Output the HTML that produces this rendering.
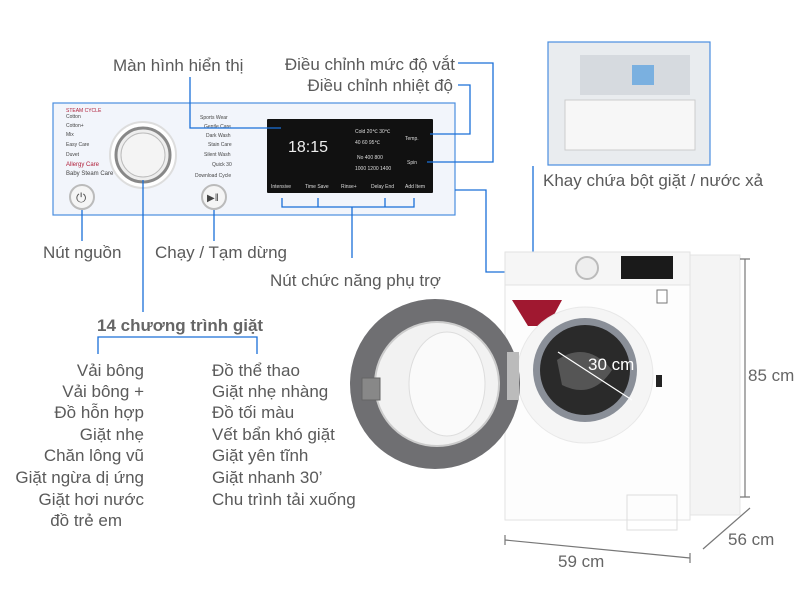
<!DOCTYPE html>
<html><head><meta charset="utf-8"><style>
body{margin:0;background:#fff;}
svg{display:block;font-family:"Liberation Sans",sans-serif;}
.t{fill:#5a5a5a;font-size:17px;}
.b{stroke:#1a6fd8;stroke-width:1.3;fill:none;}
.s{font-size:5px;fill:#444;}
.w{font-size:5px;fill:#ddd;}
</style></head><body>
<svg width="800" height="600" viewBox="0 0 800 600">
<!-- control panel -->
<rect x="53" y="103" width="402" height="112" fill="#f2f5fb" stroke="#4a8ee0" stroke-width="1.2"/>
<text x="66" y="112" font-size="5" fill="#b0203a">STEAM CYCLE</text>
<g class="s">
<text x="66" y="118">Cotton</text><text x="66" y="127">Cotton+</text><text x="66" y="136">Mix</text>
<text x="66" y="146">Easy Care</text><text x="66" y="156">Duvet</text>
<text x="66" y="175" font-size="6">Baby Steam Care</text>
<text x="200" y="119">Sports Wear</text><text x="204" y="128">Gentle Care</text><text x="206" y="137">Dark Wash</text>
<text x="208" y="146">Stain Care</text><text x="204" y="156">Silent Wash</text><text x="212" y="166">Quick 30</text>
<text x="195" y="177">Download Cycle</text>
</g>
<text x="66" y="166" font-size="6" fill="#b0203a">Allergy Care</text>
<circle cx="143" cy="155" r="33" fill="#fff" stroke="#ddd" stroke-width="2"/>
<circle cx="143" cy="155" r="27" fill="#eee" stroke="#888" stroke-width="3"/>
<circle cx="143" cy="155" r="22" fill="#f4f4f4" stroke="#bbb"/>
<circle cx="82" cy="197" r="12" fill="#f5f5f5" stroke="#bbb" stroke-width="2"/>
<text x="76" y="202" font-size="13" fill="#555">⏻</text>
<circle cx="214" cy="197" r="12" fill="#f5f5f5" stroke="#bbb" stroke-width="2"/>
<text x="207" y="201" font-size="10" fill="#444">▶‖</text>
<rect x="267" y="119" width="166" height="74" fill="#111" rx="1"/>
<text x="288" y="152" font-size="16" fill="#eee">18:15</text>
<g class="w">
<text x="355" y="133">Cold  20℃  30℃</text><text x="355" y="144">40  60  95℃</text>
<text x="357" y="159">No  400  800</text><text x="355" y="170">1000 1200 1400</text>
<text x="405" y="140">Temp.</text><text x="407" y="164">Spin</text>
<text x="271" y="188">Intensive</text><text x="305" y="188">Time Save</text><text x="341" y="188">Rinse+</text>
<text x="371" y="188">Delay End</text><text x="405" y="188">Add Item</text>
</g>
<!-- callouts -->
<text class="t" x="113" y="71">Màn hình hiển thị</text>
<text class="t" x="455" y="70" text-anchor="end">Điều chỉnh mức độ vắt</text>
<text class="t" x="453" y="91" text-anchor="end">Điều chỉnh nhiệt độ</text>
<path class="b" d="M190 77V128H281"/>
<path class="b" d="M458 63H493V162H427"/>
<path class="b" d="M458 85H470V134H430"/>
<path class="b" d="M82 210V241"/>
<path class="b" d="M214 210V241"/>
<path class="b" d="M282 198V207H414V198M318 198V207M385 198V207M352 207V258"/>
<path class="b" d="M143 180V312"/>
<path class="b" d="M455 190H486V272H620"/>
<path class="b" d="M533 166V260"/>
<circle cx="620" cy="273" r="2.5" fill="#1a6fd8"/><circle cx="533" cy="260" r="2.5" fill="#1a6fd8"/>
<text class="t" x="43" y="258">Nút nguồn</text>
<text class="t" x="155" y="258">Chạy / Tạm dừng</text>
<text class="t" x="270" y="286">Nút chức năng phụ trợ</text>
<!-- drawer photo -->
<rect x="548" y="42" width="162" height="123" fill="#e9ecef" stroke="#4a8ee0" stroke-width="1.2"/>
<rect x="565" y="100" width="130" height="50" fill="#f7f7f7" stroke="#ccc"/>
<rect x="580" y="55" width="110" height="40" fill="#d6dadf"/>
<rect x="632" y="65" width="22" height="20" fill="#7ab0e0"/>
<text class="t" x="543" y="186">Khay chứa bột giặt / nước xả</text>
<!-- programs -->
<text x="97" y="331" font-size="17" font-weight="bold" fill="#666">14 chương trình giặt</text>
<path class="b" d="M98 354V337H257V354"/>
<g class="t" text-anchor="end">
<text x="144" y="376">Vải bông</text><text x="144" y="397">Vải bông +</text><text x="144" y="418">Đồ hỗn hợp</text>
<text x="144" y="440">Giặt nhẹ</text><text x="144" y="461">Chăn lông vũ</text><text x="144" y="483">Giặt ngừa dị ứng</text>
<text x="144" y="505">Giặt hơi nước</text><text x="122" y="526">đồ trẻ em</text>
</g>
<g class="t">
<text x="212" y="376">Đồ thể thao</text><text x="212" y="397">Giặt nhẹ nhàng</text><text x="212" y="418">Đồ tối màu</text>
<text x="212" y="440">Vết bẩn khó giặt</text><text x="212" y="461">Giặt yên tĩnh</text><text x="212" y="483">Giặt nhanh 30’</text>
<text x="212" y="505">Chu trình tải xuống</text>
</g>
<!-- machine -->
<rect x="688" y="255" width="52" height="260" fill="#f4f4f4" stroke="#e5e5e5"/>
<rect x="505" y="252" width="185" height="268" fill="#fdfdfd" stroke="#e2e2e2"/>
<rect x="505" y="252" width="185" height="33" fill="#f6f6f6" stroke="#e2e2e2"/>
<rect x="621" y="256" width="52" height="23" fill="#1a1a1a"/>
<circle cx="587" cy="268" r="11" fill="#eee" stroke="#bbb" stroke-width="2"/>
<path d="M512 300h50l-14 26h-20z" fill="#a01830"/>
<rect x="657" y="290" width="10" height="13" fill="#fff" stroke="#777"/>
<circle cx="585" cy="375" r="68" fill="#f5f5f5" stroke="#e8e8e8"/>
<circle cx="585" cy="370" r="52" fill="#8a8f98"/>
<circle cx="585" cy="370" r="45" fill="#2a2a2a"/>
<path d="M557 360 q30 -20 55 10 q-20 30 -50 15z" fill="#555"/>
<line x1="558" y1="352" x2="632" y2="400" stroke="#fff" stroke-width="1.2"/>
<text x="588" y="370" font-size="17" fill="#fff">30 cm</text>
<rect x="656" y="375" width="6" height="12" fill="#222"/>
<rect x="627" y="495" width="50" height="35" fill="none" stroke="#ddd"/>
<circle cx="435" cy="384" r="85" fill="#6f6f72"/>
<circle cx="437" cy="384" r="62" fill="#f2f2f2" stroke="#ccc" stroke-width="2"/>
<ellipse cx="447" cy="384" rx="38" ry="52" fill="#fafafa" stroke="#ddd"/>
<rect x="362" y="378" width="18" height="22" fill="#888" stroke="#666"/>
<rect x="507" y="352" width="12" height="48" fill="#bbb"/>
<!-- dimensions -->
<path d="M745 259V497M740 259H750M740 497H750" stroke="#777" stroke-width="1.2"/>
<text x="748" y="381" font-size="17" fill="#666">85 cm</text>
<path d="M505 540L690 558M505 535V545M690 553V563" stroke="#777" stroke-width="1.2"/>
<text x="558" y="567" font-size="17" fill="#666">59 cm</text>
<path d="M703 549L750 508" stroke="#777" stroke-width="1.2"/>
<text x="728" y="545" font-size="17" fill="#666">56 cm</text>
</svg>
</body></html>
